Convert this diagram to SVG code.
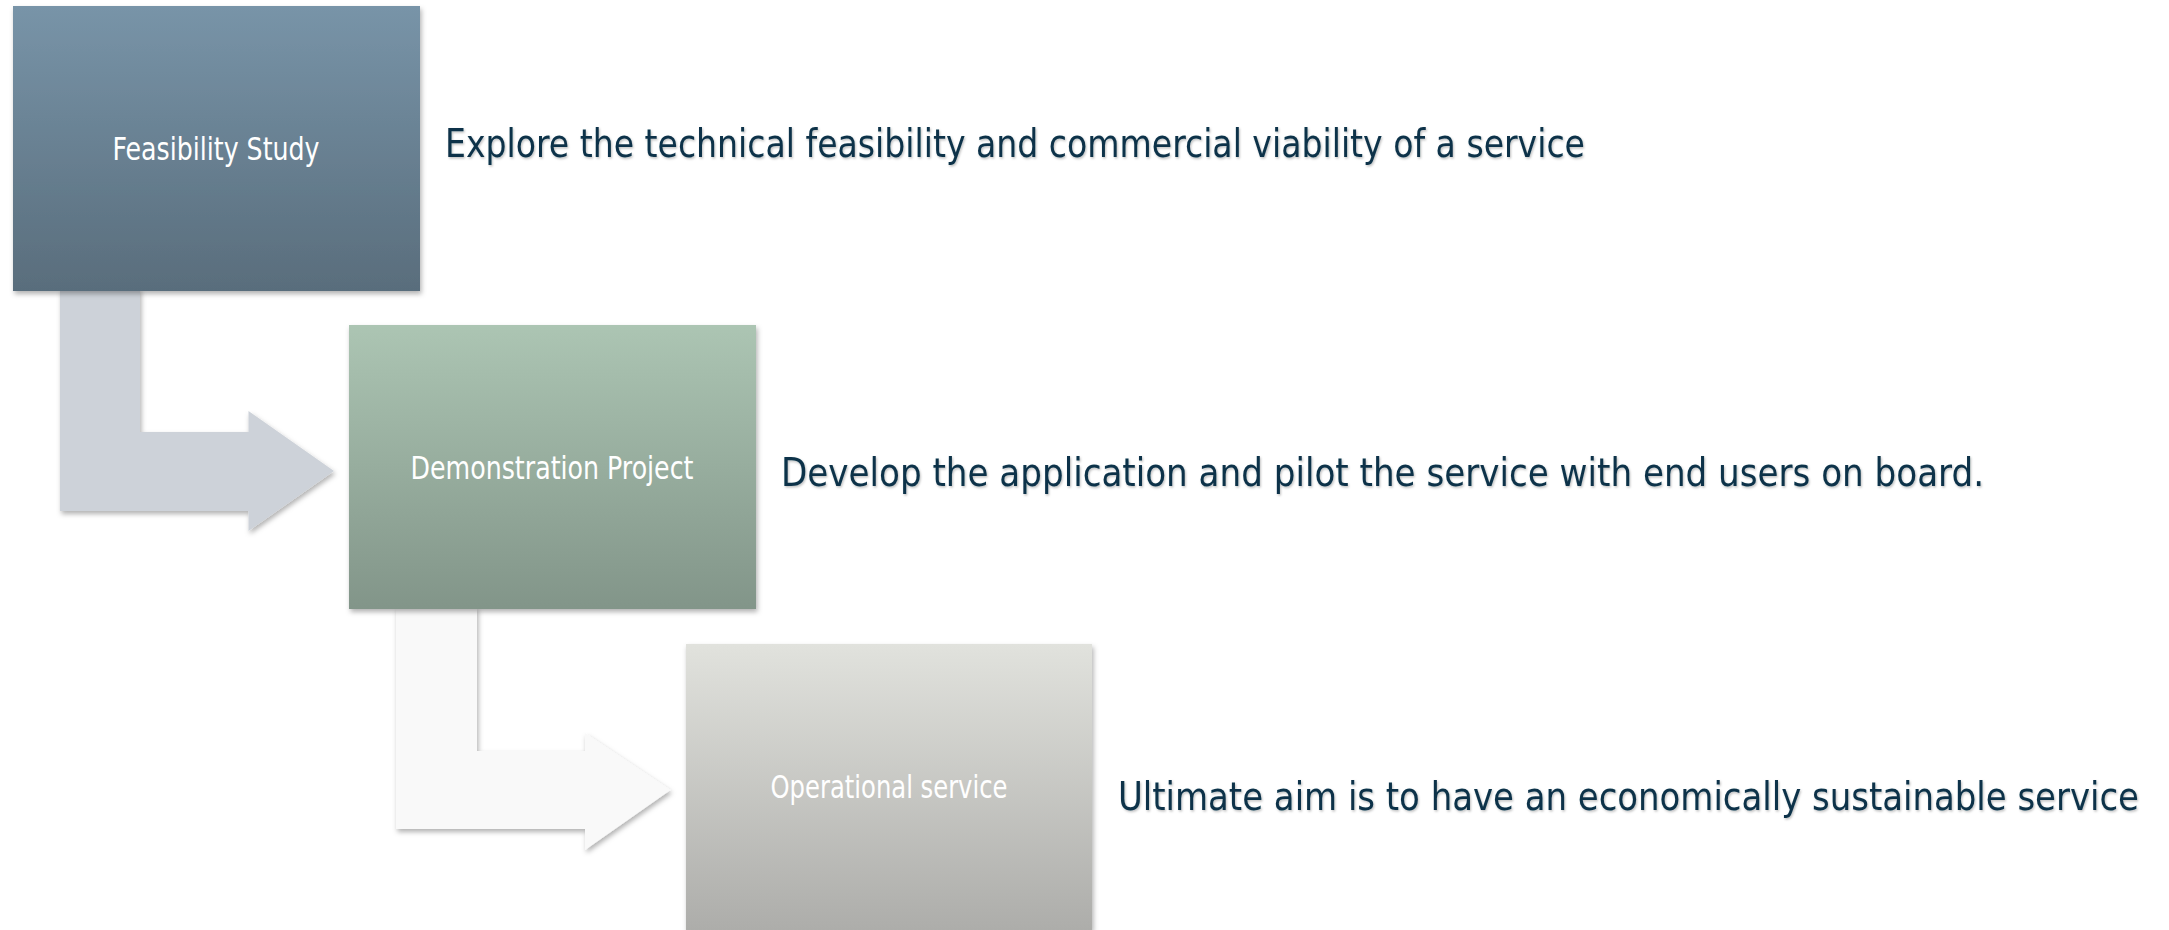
<svg xmlns="http://www.w3.org/2000/svg" width="2169" height="930" viewBox="0 0 2169 930">
  <defs>
    <linearGradient id="g1" x1="0" y1="0" x2="0" y2="1">
      <stop offset="0" stop-color="#7894a8"/>
      <stop offset="1" stop-color="#596d7c"/>
    </linearGradient>
    <linearGradient id="g2" x1="0" y1="0" x2="0" y2="1">
      <stop offset="0" stop-color="#acc5b3"/>
      <stop offset="1" stop-color="#829589"/>
    </linearGradient>
    <linearGradient id="g3" x1="0" y1="0" x2="0" y2="1">
      <stop offset="0" stop-color="#e1e2dd"/>
      <stop offset="1" stop-color="#adadaa"/>
    </linearGradient>
    <filter id="sh" x="-10%" y="-10%" width="125%" height="125%">
      <feDropShadow dx="1.5" dy="3" stdDeviation="2.5" flood-color="#000" flood-opacity="0.3"/>
    </filter>
    <filter id="tsh" x="-5%" y="-20%" width="110%" height="150%">
      <feDropShadow dx="1" dy="1.5" stdDeviation="1" flood-color="#000" flood-opacity="0.25"/>
    </filter>
  </defs>
  <style>
    .box { filter: url(#sh); }
    .lbl { font-family: "DejaVu Sans Condensed", "DejaVu Sans", sans-serif; font-size: 32px; fill: #ffffff; text-anchor: middle; }
    .desc { font-family: "DejaVu Sans Condensed", "DejaVu Sans", sans-serif; font-size: 39px; fill: #0b3349; filter: url(#tsh); }
    .arrow { filter: url(#sh); }
  </style>
  <rect width="2169" height="930" fill="#ffffff"/>
  <g id="connectors">
    <path class="arrow" d="M60,288 L140,288 L140,432 L248.5,432 L248.5,411 L334,471 L248.5,531 L248.5,511 L60,511 Z" fill="#cdd2d9"/>
    <path class="arrow" d="M396,607 L477,607 L477,751 L585,751 L585,733 L670.5,790 L585,850 L585,829 L396,829 Z" fill="#f9f9f9"/>
  </g>
  <g id="node-feasibility">
    <rect class="box" x="13" y="6" width="407" height="285" fill="url(#g1)"/>
    <text class="lbl" x="216" y="160" textLength="207" lengthAdjust="spacingAndGlyphs">Feasibility Study</text>
  </g>
  <g id="node-demonstration">
    <rect class="box" x="349" y="325" width="407" height="284" fill="url(#g2)"/>
    <text class="lbl" x="552" y="479" textLength="283" lengthAdjust="spacingAndGlyphs">Demonstration Project</text>
  </g>
  <g id="node-operational">
    <rect class="box" x="686" y="644" width="406" height="286" fill="url(#g3)"/>
    <text class="lbl" x="889" y="798" textLength="237" lengthAdjust="spacingAndGlyphs">Operational service</text>
  </g>
  <g id="descriptions">
    <text class="desc" x="445" y="157" textLength="1140" lengthAdjust="spacingAndGlyphs">Explore the technical feasibility and commercial viability of a service</text>
    <text class="desc" x="781" y="486" textLength="1203" lengthAdjust="spacingAndGlyphs">Develop the application and pilot the service with end users on board.</text>
    <text class="desc" x="1118" y="810" textLength="1021" lengthAdjust="spacingAndGlyphs">Ultimate aim is to have an economically sustainable service</text>
  </g>
</svg>
